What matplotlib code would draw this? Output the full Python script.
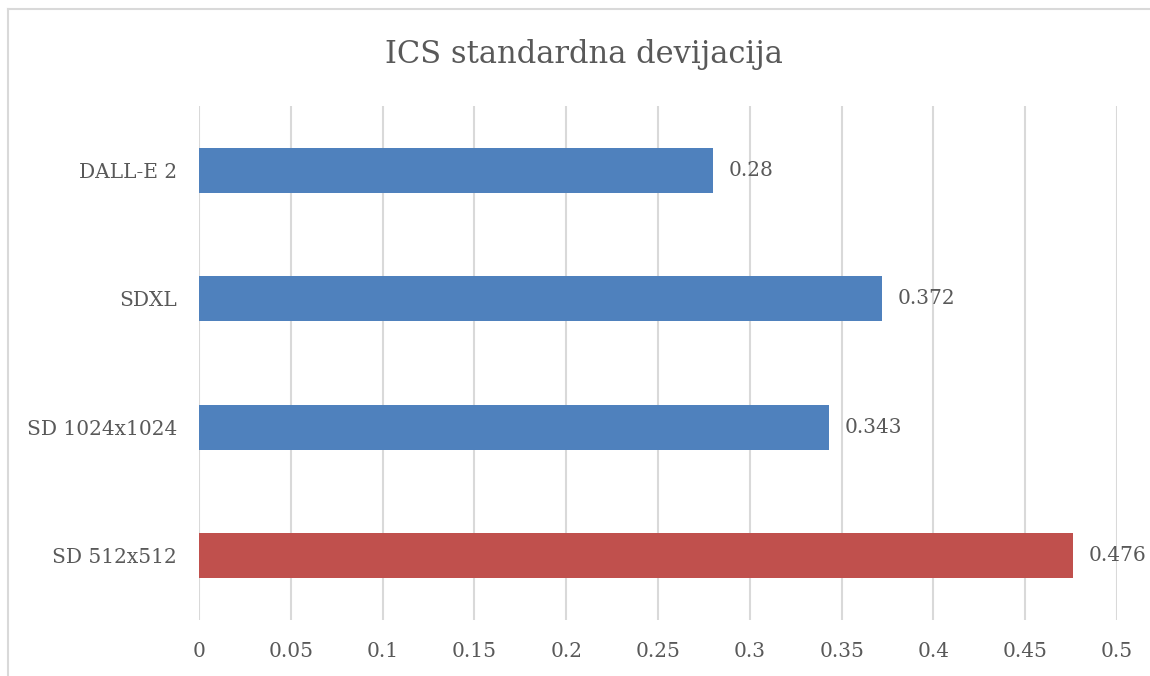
import matplotlib.pyplot as plt
from matplotlib.lines import Line2D

# data (top to bottom in the chart)
models = ['DALL-E 2', 'SDXL', 'SD 1024x1024', 'SD 512x512']
std_dev = [0.28, 0.372, 0.343, 0.476]
bar_colors = ['#4F81BD', '#4F81BD', '#4F81BD', '#C0504D']
ticks = [0, 0.05, 0.1, 0.15, 0.2, 0.25, 0.3, 0.35, 0.4, 0.45, 0.5]

plt.rcParams['font.family'] = ['DejaVu Serif']
text_col = '#595959'

W, H = 1150, 676
fig = plt.figure(figsize=(W / 100, H / 100), dpi=100)
ax = fig.add_axes([199 / W, 1 - 620 / H, (1117 - 199) / W, (620 - 106) / H])

# outer chart border, only left and top edges show in the crop
bx, by = 8 / W, 1 - 9 / H
fig.add_artist(Line2D([bx, bx], [0, by], transform=fig.transFigure,
                      color='#D9D9D9', linewidth=1.5))
fig.add_artist(Line2D([bx, 1], [by, by], transform=fig.transFigure,
                      color='#D9D9D9', linewidth=1.5))

y = list(range(len(models)))[::-1]
ax.barh(y, std_dev, height=0.35, color=bar_colors, zorder=3)

for yi, v in zip(y, std_dev):
    ax.text(v + 0.0087, yi, f'{v:g}', va='center', ha='left',
            fontsize=14.5, color=text_col)

ax.set_xlim(0, 0.5)
ax.set_ylim(-0.5, 3.5)
ax.set_xticks(ticks)
ax.set_xticklabels([f'{t:g}' for t in ticks], fontsize=14.5, color=text_col)
ax.set_yticks(y)
ax.set_yticklabels(models, fontsize=14.5, color=text_col)
ax.tick_params(length=0)
ax.tick_params(axis='y', pad=16)
ax.tick_params(axis='x', pad=16)
ax.xaxis.grid(True, color='#D9D9D9', linewidth=1.5, zorder=0)
for s in ax.spines.values():
    s.set_visible(False)

fig.text(584 / W, 1 - 55 / H, 'ICS standardna devijacija', ha='center',
         va='center', fontsize=22, color=text_col)

fig.savefig('out.png', dpi=100)
